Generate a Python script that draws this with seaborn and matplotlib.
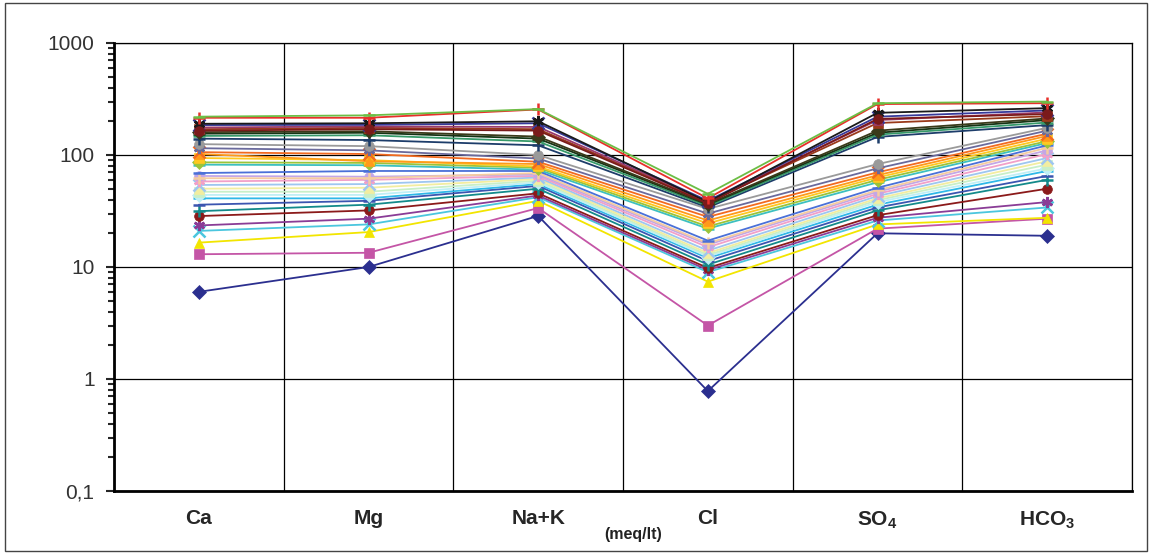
import numpy as np
import pandas as pd
import seaborn as sns
import matplotlib
matplotlib.use("Agg")
import matplotlib.pyplot as plt
from matplotlib.ticker import FixedLocator, FuncFormatter, LogLocator, NullFormatter
from matplotlib.patches import Rectangle

categories = ["Ca", "Mg", "Na+K", "Cl", r"SO$_\mathbf{4}$", r"HCO$_\mathbf{3}$"]
unit_label = "(meq/lt)"
ytick_values = [0.1, 1, 10, 100, 1000]
ytick_labels = ["0,1", "1", "10", "100", "1000"]

# one row per sample: Ca, Mg, Na+K, Cl, SO4, HCO3 (meq/lt)
values = [
    [6.0, 10.0, 28.6, 0.78, 20, 19],
    [13.0, 13.4, 33.6, 3.0, 22, 27],
    [16.5, 20.5, 39, 7.4, 24, 27.5],
    [21, 24, 42, 9.0, 26, 34],
    [23.5, 27, 43.5, 9.4, 27.5, 38],
    [28.5, 32, 45.5, 9.8, 29, 50],
    [31.5, 36, 50, 10.5, 32, 60],
    [36, 39, 53, 11.3, 34, 65],
    [41, 41, 55, 12.0, 36, 72],
    [44, 44, 57, 12.4, 38, 76],
    [47, 47, 59, 12.8, 39.5, 82],
    [50, 51, 61, 13.3, 41, 88],
    [54, 55, 63, 14.0, 43, 94],
    [58, 60, 65, 15.0, 45, 102],
    [65, 64, 67, 15.8, 47, 110],
    [62, 62, 69, 16.3, 48.5, 116],
    [69, 72, 72, 17.2, 51, 122],
    [82, 81, 74, 22, 57, 128],
    [86, 85, 77, 23, 60, 133],
    [94, 90, 79, 24.5, 63, 140],
    [102, 88, 83, 26, 66, 148],
    [106, 102, 87, 28, 70, 155],
    [115, 110, 93, 30, 76, 165],
    [125, 120, 100, 33, 83, 175],
    [140, 136, 122, 34, 145, 185],
    [148, 150, 132, 35, 152, 195],
    [155, 158, 140, 36, 158, 205],
    [160, 163, 146, 36.5, 165, 212],
    [170, 175, 170, 38, 193, 222],
    [176, 180, 178, 38.5, 205, 240],
    [185, 186, 192, 39, 220, 250],
    [190, 192, 200, 38, 238, 262],
    [165, 170, 165, 37, 210, 232],
    [215, 215, 255, 41, 285, 290],
    [220, 226, 257, 45, 290, 300],
]

colors = ["#2B2F8F", "#C455A6", "#F2E500", "#4BC6DE", "#8A3C96", "#8B1A1A",
          "#138A8A", "#3B55B0", "#2FB8E8", "#BFEFF5", "#C8EFC8", "#F2EDA0",
          "#9EC6F0", "#F2A0C8", "#C3A6E6", "#F5CCA0", "#4A70D8", "#3CC0C0",
          "#9BC43A", "#FFC820", "#FF9A1A", "#F26A20", "#6A6A9C", "#9A9A9A",
          "#1D3D6A", "#379A6A", "#153515", "#3A3A1A", "#9A3A1A", "#9A3A6A",
          "#36399A", "#1A1A1A", "#7A1A1A", "#E8302A", "#6CBE45"]
marker_cycle = ["D", "s", "^", "x", (6, 2, 0), "o", "+", "_", "_"]

rows = []
for i, vals in enumerate(values):
    for j, v in enumerate(vals):
        rows.append({"series": i, "pos": j, "value": v})
df = pd.DataFrame(rows)

sns.set_style("white")
plt.rcParams["font.family"] = ["Liberation Sans", "DejaVu Sans"]
plt.rcParams["mathtext.fontset"] = "custom"
plt.rcParams["mathtext.rm"] = "Liberation Sans"
plt.rcParams["mathtext.bf"] = "Liberation Sans:bold"

fig = plt.figure(figsize=(11.53, 5.54), dpi=100)
ax = fig.add_axes([114 / 1153, 1 - 491 / 554, (1132 - 114) / 1153, (491 - 43) / 554])

for i in range(len(values)):
    sub = df[df["series"] == i]
    m = marker_cycle[i % len(marker_cycle)]
    c = colors[i]
    unfilled = m in ("x", "+", "_") or isinstance(m, tuple)
    sns.lineplot(data=sub, x="pos", y="value", ax=ax, color=c, marker=m,
                 markersize=8 if unfilled else 7, markeredgecolor=c,
                 markerfacecolor=c, markeredgewidth=1.8 if unfilled else 0.5,
                 linewidth=1.3, sort=False, estimator=None, legend=False,
                 zorder=3 + i * 0.01)

ax.set_yscale("log")
ax.set_ylim(0.1, 1000)
ax.set_xlim(-0.5, 5.5)
ax.yaxis.set_major_locator(FixedLocator(ytick_values))
ax.yaxis.set_major_formatter(FuncFormatter(lambda v, p: dict(zip(ytick_values, ytick_labels)).get(v, "")))
ax.yaxis.set_minor_locator(LogLocator(base=10, subs=np.arange(2, 10)))
ax.yaxis.set_minor_formatter(NullFormatter())
ax.set_xticks(range(len(categories)))
ax.set_xticklabels(categories, fontweight="bold", fontsize=15)
ax.set_xticks(np.arange(-0.5, 5.6, 0.5), minor=True)
ax.tick_params(axis="x", which="both", length=0, pad=13)
ax.tick_params(axis="y", which="major", direction="out", length=6, width=1.5,
               labelsize=15, labelcolor="#333333", pad=8, left=True)
ax.tick_params(axis="y", which="minor", direction="out", length=4, width=1.5, left=True)
ax.set_xlabel("")
ax.set_ylabel("")

ax.grid(True, which="major", axis="y", color="black", linewidth=0.9, zorder=1)
ax.grid(True, which="minor", axis="x", color="black", linewidth=0.9, zorder=1)
ax.set_axisbelow(True)
for s in ["top", "right"]:
    ax.spines[s].set_color("black")
    ax.spines[s].set_linewidth(0.9)
for s in ["left", "bottom"]:
    ax.spines[s].set_color("black")
    ax.spines[s].set_linewidth(2.0)

fig.text(633 / 1153, 1 - 535 / 554, unit_label, ha="center", va="center",
         fontsize=11.5, fontweight="bold", color="#222222")

fig.patches.append(Rectangle((5 / 1153, 3 / 554), 1142 / 1153, 548 / 554,
                             transform=fig.transFigure, fill=False,
                             edgecolor="#444444", linewidth=1.0))

fig.savefig("out.png", dpi=100)
